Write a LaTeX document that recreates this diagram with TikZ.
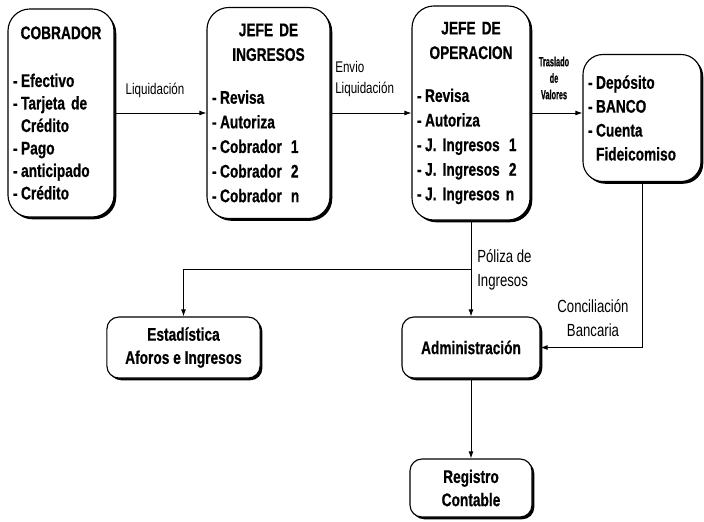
\documentclass[tikz,border=0pt]{standalone}
\usepackage{fontspec}
\setmainfont{Liberation Sans}[FakeStretch=0.75, BoldFeatures={FakeBold=0.6}]
\newfontfamily\condfont{Liberation Sans}[FakeStretch=0.55, BoldFeatures={FakeBold=0.6}]
\usetikzlibrary{shadows,arrows.meta}

\newcommand{\dsh}{-\hspace{2.5pt}}

\tikzset{
    flowbox/.style={draw, line width=0.8pt, fill=white, inner ysep=2pt, inner xsep=0.125cm,
                    drop shadow={shadow xshift=1.6pt, shadow yshift=-1.6pt, opacity=1, fill=black},
                    execute at begin node={\setlength{\parindent}{0pt}}},
    bigbox/.style={flowbox, rounded corners=0.55cm, align=left,
                   font=\bfseries\fontsize{13}{17.5}\selectfont},
    smallbox/.style={flowbox, rounded corners=0.3cm, align=center,
                     font=\bfseries\fontsize{13}{16.5}\selectfont},
    flowlabel/.style={inner sep=0pt, align=left, font=\fontsize{12.5}{17}\selectfont},
    arrow/.style={-{Latex[length=5pt,width=3.5pt]}, line width=0.6pt}
}

\begin{document}
\begin{tikzpicture}[x=0.025cm, y=-0.025cm]
    \useasboundingbox (0,0) rectangle (704,521);

    % top row
    \node[bigbox, font=\bfseries\fontsize{13}{16}\selectfont,
          minimum width=2.65cm, text width=2.4cm, minimum height=5.2cm] (cobrador) at (61,113)
        {{\centering COBRADOR\par}\vspace{18pt}
        \dsh Efectivo\\
        \dsh Tarjeta de\\
        \phantom{\dsh}Crédito\\
        \dsh Pago\\
        \dsh anticipado\\
        \dsh Crédito};
    \node[bigbox, minimum width=3.075cm, text width=2.825cm, minimum height=5.275cm] (jefeing) at (268.5,113)
        {{\centering JEFE DE\\INGRESOS\par}\vspace{13pt}
        \dsh Revisa\\
        \dsh Autoriza\\
        \dsh Cobrador\enspace 1\\
        \dsh Cobrador\enspace 2\\
        \dsh Cobrador\enspace n};
    \node[bigbox, minimum width=2.95cm, text width=2.7cm, minimum height=5.35cm] (jefeop) at (471,113)
        {{\centering JEFE DE\\OPERACION\par}\vspace{13pt}
        \dsh Revisa\\
        \dsh Autoriza\\
        \dsh J. Ingresos\enspace 1\\
        \dsh J. Ingresos\enspace 2\\
        \dsh J. Ingresos n};
    \node[bigbox, rounded corners=0.5cm, font=\bfseries\fontsize{13}{17}\selectfont,
          minimum width=2.95cm, text width=2.7cm, minimum height=3.175cm] (banco) at (642,118)
        {\dsh Depósito\\
        \dsh BANCO\\
        \dsh Cuenta\\
        \phantom{\dsh}Fideicomiso};

    \draw[arrow] (cobrador.east) -- (cobrador.east -| jefeing.west);
    \draw[arrow] (jefeing.east) -- (jefeing.east -| jefeop.west);
    \draw[arrow] (jefeop.east) -- (jefeop.east -| banco.west);

    \node[flowlabel, font=\fontsize{11}{15.6}\selectfont] (liqlabel) at (155,90) {Liquidación};
    \node[flowlabel, anchor=west, font=\fontsize{11}{15.6}\selectfont] (envlabel) at (335,79)
        {Envio\\Liquidación};
    \node[flowlabel, align=center, font=\condfont\bfseries\fontsize{9.5}{11.7}\selectfont] (traslabel) at (554,78)
        {Traslado\\de\\Valores};

    % bottom part
    \node[smallbox, minimum width=3.83cm, minimum height=1.525cm] (estad) at (183.5,347.5)
        {Estadística\\Aforos e Ingresos};
    \node[smallbox, minimum width=3.45cm, minimum height=1.525cm] (admin) at (471,347.5)
        {Administración};
    \node[smallbox, minimum width=3.05cm, minimum height=1.45cm] (regist) at (471,488)
        {Registro\\Contable};

    \coordinate (split) at (471,269);
    \draw[arrow] (jefeop.south) -- (admin.north);
    \draw[arrow] (split) -| (estad.north);
    \draw[arrow] (banco.south) |- (admin.east);
    \draw[arrow] (admin.south) -- (regist.north);

    \node[flowlabel, anchor=west] (polizalabel) at (477,270) {Póliza de\\Ingresos};
    \node[flowlabel, align=center] (concilabel) at (593,318) {Conciliación\\Bancaria};
\end{tikzpicture}
\end{document}
